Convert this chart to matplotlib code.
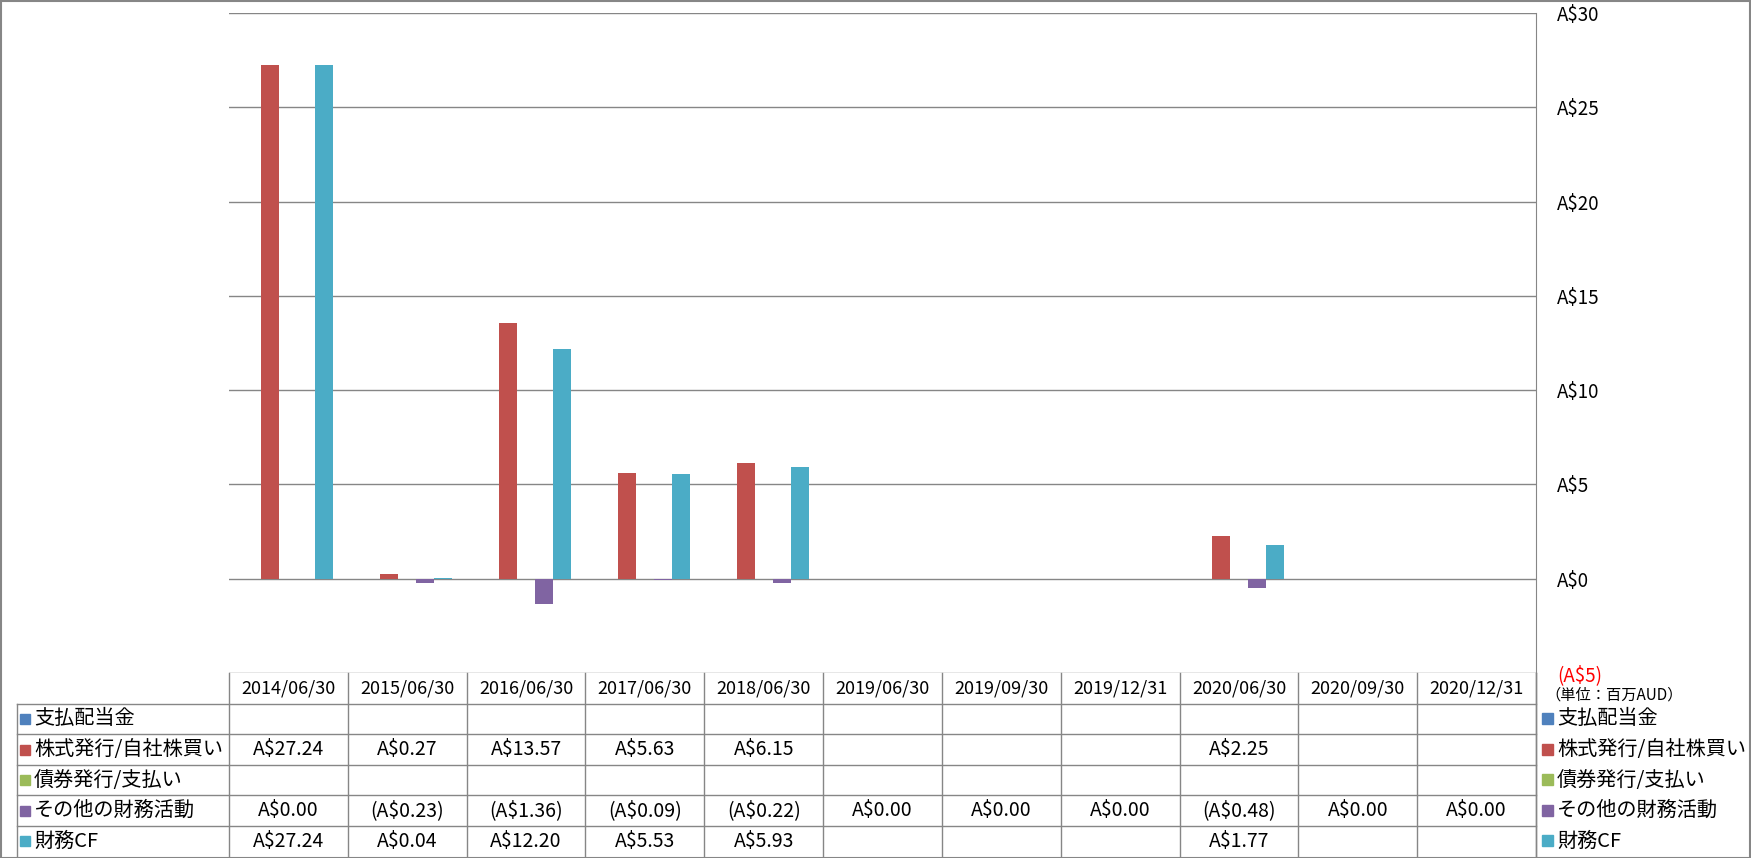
import matplotlib.pyplot as plt
import matplotlib.transforms as mtransforms
from matplotlib.lines import Line2D
from matplotlib.patches import Rectangle
import numpy as np

plt.rcParams['font.family'] = ['Noto Sans CJK JP', 'DejaVu Sans']

# data (百万AUD)
dates = ['2014/06/30', '2015/06/30', '2016/06/30', '2017/06/30', '2018/06/30',
         '2019/06/30', '2019/09/30', '2019/12/31', '2020/06/30', '2020/09/30', '2020/12/31']
series_names = ['支払配当金', '株式発行/自社株買い', '債券発行/支払い', 'その他の財務活動', '財務CF']
colors = ['#4F81BD', '#C0504D', '#9BBB59', '#8064A2', '#4BACC6']
nan = np.nan
dividends = [nan, nan, nan, nan, nan, nan, nan, nan, nan, nan, nan]
stock = [27.24, 0.27, 13.57, 5.63, 6.15, nan, nan, nan, 2.25, nan, nan]
bonds = [nan, nan, nan, nan, nan, nan, nan, nan, nan, nan, nan]
other = [0.00, -0.23, -1.36, -0.09, -0.22, 0.00, 0.00, 0.00, -0.48, 0.00, 0.00]
fin_cf = [27.24, 0.04, 12.20, 5.53, 5.93, nan, nan, nan, 1.77, nan, nan]
series = [dividends, stock, bonds, other, fin_cf]
yticks = [-5, 0, 5, 10, 15, 20, 25, 30]

W, H = 1751, 858
grey = '#868686'


def fx(px):
    return px / W


def fy(px):
    return 1 - px / H


def fmt(v):
    if np.isnan(v):
        return ''
    if v < 0:
        return f'(A${-v:.2f})'
    return f'A${v:.2f}'


fig = plt.figure(figsize=(W / 100, H / 100), dpi=100)
ax = fig.add_axes([fx(229), fy(673), fx(1536) - fx(229), fy(13) - fy(673)])

n = len(dates)
x = np.arange(n)
w = 0.1515
for k, vals in enumerate(series):
    ax.bar(x + (k - 2) * w, np.nan_to_num(vals), width=w, color=colors[k], zorder=3)

ax.set_xlim(-0.5, n - 0.5)
ax.set_ylim(-5, 30)
ax.set_xticks([])
ax.set_yticks(yticks)
ax.yaxis.tick_right()
ax.set_yticklabels([f'(A${-t})' if t < 0 else f'A${t}' for t in yticks], fontsize=13.5)
for lab, t in zip(ax.get_yticklabels(), yticks):
    if t < 0:
        lab.set_color('#FF0000')
ax.tick_params(axis='y', length=0, pad=15)
ax.grid(axis='y', color=grey, lw=1, zorder=0)
for s in ['top', 'left', 'bottom']:
    ax.spines[s].set_visible(False)
ax.spines['right'].set_color(grey)

# data table under the chart
bt = mtransforms.blended_transform_factory(ax.transData, fig.transFigure)
row_h = 30.6
top = 673
bottom = 857
for i in range(n + 1):
    fig.add_artist(Line2D([i - 0.5, i - 0.5], [fy(top), fy(bottom)], transform=bt, color=grey, lw=1))
fig.add_artist(Line2D([fx(17), fx(17)], [fy(top + row_h), fy(bottom)], color=grey, lw=1))
fig.add_artist(Line2D([fx(1536), fx(1536)], [fy(top), fy(bottom)], color=grey, lw=1))
for r in range(1, 6):
    yy = fy(top + r * row_h)
    fig.add_artist(Line2D([fx(17), fx(1536)], [yy, yy], color=grey, lw=1))

for i, d in enumerate(dates):
    fig.text(i, fy(top + row_h / 2), d, transform=bt, fontsize=13, ha='center', va='center')

for k, name in enumerate(series_names):
    yc = fy(top + (k + 1.5) * row_h)
    fig.add_artist(Rectangle((fx(20), yc - 5 / H), 10 / W, 10 / H, transform=fig.transFigure,
                             color=colors[k]))
    fig.text(fx(34), yc, name, fontsize=14.5, ha='left', va='center')
    for i, v in enumerate(series[k]):
        fig.text(i, yc, fmt(v), transform=bt, fontsize=14, ha='center', va='center')

# legend on the right
for k, name in enumerate(series_names):
    yc = fy(top + (k + 1.5) * row_h)
    fig.add_artist(Rectangle((fx(1542), yc - 5 / H), 11 / W, 11 / H, transform=fig.transFigure,
                             color=colors[k]))
    fig.text(fx(1557), yc, name, fontsize=14.5, ha='left', va='center')

fig.text(fx(1545), fy(695), '（単位：百万AUD）', fontsize=11, ha='left', va='center')

fig.add_artist(Rectangle((0.5 / W, 0.5 / H), 1 - 1.5 / W, 1 - 1.5 / H, transform=fig.transFigure,
                         fill=False, ec=grey, lw=1.5))

fig.savefig('out.png', dpi=100)
